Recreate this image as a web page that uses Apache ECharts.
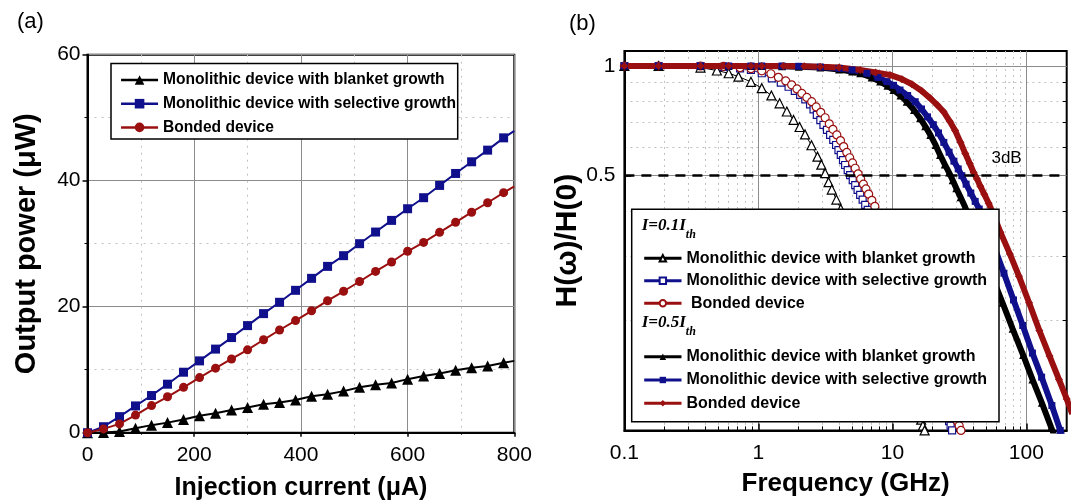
<!DOCTYPE html>
<html>
<head>
<meta charset="utf-8">
<script src="https://cdn.jsdelivr.net/npm/echarts@6/dist/echarts.min.js"></script>
<style>
  html, body { margin: 0; padding: 0; background: #ffffff; }
  #chart { width: 1074px; height: 504px; }
</style>
</head>
<body>
<div id="chart"></div>
<script>
// ---------- (a) light output vs. injection current ----------
const injectionCurrent = [0, 30, 60, 90, 120, 150, 180, 210, 240, 270, 300, 330, 360, 390, 420, 450, 480, 510, 540, 570, 600, 630, 660, 690, 720, 750, 780, 800];
const powerBlanket   = [0, 0.05, 0.2, 0.7, 1.2, 1.6, 2.1, 2.7, 3.1, 3.6, 4.0, 4.5, 4.8, 5.2, 5.8, 6.1, 6.6, 7.2, 7.6, 7.9, 8.5, 9.0, 9.4, 9.9, 10.3, 10.6, 11.1, 11.4];
const powerSelective = [0, 0.95, 2.55, 4.25, 5.9, 7.7, 9.6, 11.4, 13.27, 15.1, 17.0, 18.9, 20.7, 22.6, 24.5, 26.4, 28.1, 30.0, 31.85, 33.7, 35.55, 37.3, 39.25, 41.15, 43.0, 44.85, 46.8, 47.9];
const powerBonded    = [0, 0.6, 1.4, 2.8, 4.3, 5.7, 7.2, 8.75, 10.25, 11.7, 13.15, 14.75, 16.3, 17.8, 19.35, 20.95, 22.45, 24.0, 25.6, 27.1, 28.8, 30.2, 31.8, 33.4, 35.0, 36.5, 38.1, 39.1];
const currentTicks = [0, 200, 400, 600, 800];
const powerTicks = [0, 20, 40, 60];

// ---------- (b) normalised modulation response, I = 0.1 Ith ----------
const freqBlanketLow = [0.1, 0.18, 0.37, 0.49, 0.6, 0.71, 0.88, 1.06, 1.25, 1.44, 1.63, 1.83, 2.03, 2.23, 2.49, 2.76, 2.95, 3.15, 3.34, 3.53, 3.82, 4.12, 4.45, 6, 8.5, 11.5, 14, 15.3, 15.9, 16.4, 16.9, 17.4, 18];
const respBlanketLow = [1.0, 1.0, 0.99, 0.972, 0.955, 0.935, 0.905, 0.869, 0.83, 0.79, 0.75, 0.711, 0.68, 0.649, 0.606, 0.564, 0.536, 0.508, 0.48, 0.458, 0.43, 0.405, 0.383, 0.295, 0.21, 0.155, 0.127, 0.116, 0.111, 0.107, 0.103, 0.1, 0.096];
const freqSelectiveLow = [0.1, 0.18, 0.37, 0.55, 0.73, 0.88, 1.06, 1.26, 1.47, 1.68, 1.87, 2.05, 2.24, 2.43, 2.58, 2.73, 2.9, 3.06, 3.25, 3.43, 3.62, 3.8, 3.96, 4.12, 4.28, 4.44, 4.64, 4.84, 5.06, 5.28, 5.5, 5.75, 6.0, 6.27, 6.55, 9, 13, 18, 23, 25.5, 26.5, 27.2, 27.9, 28.6];
const respSelectiveLow = [1.0, 1.0, 1.0, 0.995, 0.985, 0.975, 0.955, 0.925, 0.9, 0.877, 0.855, 0.833, 0.81, 0.785, 0.76, 0.734, 0.71, 0.689, 0.668, 0.647, 0.627, 0.607, 0.588, 0.57, 0.552, 0.535, 0.518, 0.502, 0.486, 0.471, 0.457, 0.443, 0.43, 0.416, 0.403, 0.3, 0.2, 0.148, 0.12, 0.11, 0.106, 0.103, 0.1, 0.097];
const freqBondedLow = [0.1, 0.18, 0.37, 0.55, 0.73, 0.88, 1.06, 1.24, 1.41, 1.6, 1.77, 1.94, 2.11, 2.3, 2.5, 2.7, 2.92, 3.15, 3.38, 3.6, 3.85, 4.1, 4.33, 4.57, 4.8, 5.04, 5.28, 5.55, 5.8, 6.08, 6.35, 6.65, 7.03, 7.4, 10, 14, 20, 26, 29, 30.5, 31.5, 32.5, 33.5];
const respBondedLow = [1.0, 1.0, 1.0, 0.998, 0.99, 0.983, 0.97, 0.952, 0.931, 0.91, 0.888, 0.865, 0.841, 0.82, 0.798, 0.772, 0.746, 0.721, 0.694, 0.67, 0.647, 0.624, 0.601, 0.579, 0.56, 0.542, 0.524, 0.506, 0.49, 0.474, 0.46, 0.445, 0.428, 0.412, 0.32, 0.23, 0.16, 0.125, 0.112, 0.106, 0.103, 0.1, 0.097];

// ---------- (b) normalised modulation response, I = 0.5 Ith ----------
const freqBlanketHigh = [0.1, 0.18, 0.37, 0.6, 0.88, 1.06, 1.5, 2.0, 2.9, 4.0, 5.0, 5.75, 7.0, 8.1, 9.2, 10.2, 11.5, 12.8, 14.5, 16.1, 17.6, 19.2, 21.0, 22.7, 24.6, 26.5, 28.2, 30.0, 32.3, 34.9, 40.5, 47.6, 56, 66.4, 79, 94.6, 111, 130.5, 153, 165];
const respBlanketHigh = [1.0, 1.0, 1.0, 1.0, 1.0, 1.0, 0.998, 0.995, 0.99, 0.978, 0.965, 0.955, 0.93, 0.906, 0.882, 0.859, 0.83, 0.798, 0.757, 0.719, 0.683, 0.647, 0.607, 0.57, 0.537, 0.51, 0.486, 0.462, 0.436, 0.41, 0.358, 0.307, 0.262, 0.224, 0.19, 0.161, 0.138, 0.119, 0.102, 0.095];
const freqSelectiveHigh = [0.1, 0.18, 0.37, 0.6, 0.88, 1.06, 1.5, 2.0, 2.9, 4.0, 5.0, 6.46, 7.8, 9.1, 10.2, 11.4, 13.0, 14.8, 16.5, 18.3, 20.2, 22.1, 24.2, 26.5, 28.8, 31.0, 33.0, 35.5, 38.5, 41.5, 44.5, 51, 58.7, 68, 80.2, 94, 111, 130, 155, 179, 195];
const respSelectiveHigh = [1.0, 1.0, 1.0, 1.0, 1.0, 1.0, 1.0, 0.998, 0.993, 0.985, 0.975, 0.955, 0.93, 0.906, 0.885, 0.859, 0.83, 0.798, 0.762, 0.725, 0.69, 0.655, 0.617, 0.58, 0.548, 0.522, 0.5, 0.474, 0.448, 0.425, 0.405, 0.358, 0.313, 0.27, 0.228, 0.194, 0.163, 0.14, 0.117, 0.1, 0.093];
const freqBondedHigh = [0.1, 0.18, 0.37, 0.6, 0.88, 1.06, 1.54, 2.2, 2.89, 4.0, 5.75, 7.5, 9.6, 11.8, 14.0, 16.5, 19.2, 21.6, 24.1, 26.8, 29.4, 32.2, 35.0, 37.8, 40.4, 42.8, 45.3, 48.5, 52.3, 57, 64, 75.3, 88, 104.8, 125, 149, 175, 200, 220];
const respBondedHigh = [1.0, 1.0, 1.0, 1.0, 1.0, 1.0, 1.0, 0.998, 0.995, 0.99, 0.975, 0.96, 0.945, 0.92, 0.891, 0.855, 0.815, 0.782, 0.749, 0.705, 0.665, 0.618, 0.575, 0.54, 0.51, 0.49, 0.468, 0.445, 0.42, 0.39, 0.35, 0.305, 0.265, 0.224, 0.188, 0.16, 0.138, 0.122, 0.111];

const freqLabelTicks = [0.1, 1, 10, 100];
const freqMinorTicks = [0.2, 0.3, 0.4, 0.5, 0.6, 0.7, 0.8, 0.9, 2, 3, 4, 5, 6, 7, 8, 9, 20, 30, 40, 50, 60, 70, 80, 90];
const respLabelTicks = [0.5, 1];
const respMinorTicks = [0.2, 0.3, 0.4, 0.6, 0.7, 0.8, 0.9];
const threeDbLevel = 0.5;

// ---------- legend texts ----------
const legendText = {
  aBlanket: 'Monolithic device with blanket growth',
  aSelective: 'Monolithic device with selective growth',
  aBonded: 'Bonded device',
  lowBlanket: 'Monolithic device with blanket growth',
  lowSelective: 'Monolithic device with selective growth',
  lowBonded: ' Bonded device',
  highBlanket: 'Monolithic device with blanket growth',
  highSelective: 'Monolithic device with selective growth',
  highBonded: 'Bonded device'
};

const SANS = 'Liberation Sans, Arial, sans-serif';
const SERIF = 'Liberation Serif, Times New Roman, serif';
const BLACK = '#000000';
const BLUE = '#10108c';
const RED = '#9a1010';

const zip = (xs, ys) => xs.map((x, i) => [x, ys[i]]);
// the last current point only continues the line to the frame edge
const currentSeries = (ys) => injectionCurrent.map((x, i) =>
  i === injectionCurrent.length - 1 ? { value: [x, ys[i]], symbol: 'none' } : [x, ys[i]]);

const tickFont = { color: BLACK, fontFamily: SANS, fontSize: 21 };
const nameFont = (size) => ({ color: BLACK, fontFamily: SANS, fontSize: size, fontWeight: 'bold' });
const frame = { show: true, onZero: false, lineStyle: { color: BLACK, width: 2 } };

const chart = echarts.init(document.getElementById('chart'), null, { renderer: 'canvas' });

const legendBase = (size) => ({
  orient: 'vertical',
  padding: 0,
  selectedMode: false,
  z: 20,
  formatter: (n) => legendText[n],
  textStyle: { color: BLACK, fontFamily: SANS, fontSize: size, fontWeight: 'bold', lineHeight: 16 }
});

const openLine = (name, xs, ys, color, symbol, size) => ({
  name, type: 'line', xAxisIndex: 1, yAxisIndex: 1,
  data: zip(xs, ys), symbol, symbolSize: size, showSymbol: true,
  lineStyle: { color, width: 1 },
  itemStyle: { color: '#ffffff', borderColor: color, borderWidth: 1.2 },
  z: 3
});
const filledLine = (name, xs, ys, color, symbol, size) => ({
  name, type: 'line', xAxisIndex: 1, yAxisIndex: 1,
  data: zip(xs, ys), symbol, symbolSize: size, showSymbol: true,
  lineStyle: { color, width: 6 },
  itemStyle: { color },
  z: 4
});

const option = {
  animation: false,
  backgroundColor: '#ffffff',
  grid: [
    { left: 87.5, top: 54.7, width: 426.8, height: 378, show: true, borderColor: BLACK, borderWidth: 2, backgroundColor: 'transparent', outerBoundsMode: 'none' },
    { left: 624.4, top: 50.9, width: 442.3, height: 379.5, show: true, borderColor: BLACK, borderWidth: 2, backgroundColor: 'transparent', outerBoundsMode: 'none' }
  ],
  xAxis: [
    {
      gridIndex: 0, type: 'value', min: currentTicks[0], max: currentTicks[currentTicks.length - 1], interval: 200,
      axisLine: frame,
      axisTick: { show: true, inside: false, length: 4, lineStyle: { color: BLACK, width: 1.5 } },
      minorTick: { show: true, splitNumber: 2, length: 2, lineStyle: { color: BLACK } },
      axisLabel: Object.assign({ margin: 12 }, tickFont),
      splitLine: { show: true, lineStyle: { color: '#8c8c8c', width: 1 } },
      minorSplitLine: { show: true, lineStyle: { color: '#c0c0c0', width: 1, type: [2, 5] } },
      name: 'Injection current (μA)', nameLocation: 'middle', nameGap: 43, nameTextStyle: nameFont(25)
    },
    {
      gridIndex: 1, type: 'log', logBase: 10, min: 0.1, max: 200, position: 'bottom',
      axisLine: frame,
      axisTick: { show: true, inside: true, length: 7, customValues: freqLabelTicks, lineStyle: { color: BLACK, width: 1.5 } },
      axisLabel: Object.assign({ margin: 12, customValues: freqLabelTicks, formatter: (v) => String(+(+v).toPrecision(3)) }, tickFont),
      splitLine: { show: true, lineStyle: { color: '#8c8c8c', width: 1 } },
      name: 'Frequency (GHz)', nameLocation: 'middle', nameGap: 40, nameTextStyle: nameFont(26)
    },
    {
      gridIndex: 1, type: 'log', logBase: 10, min: 0.1, max: 200, position: 'bottom',
      axisLine: { show: false },
      axisTick: { show: true, inside: true, length: 4, customValues: freqMinorTicks, lineStyle: { color: BLACK, width: 1 } },
      axisLabel: { show: false },
      splitLine: { show: true, lineStyle: { color: '#c0c0c0', width: 1, type: [2, 4] } }
    }
  ],
  yAxis: [
    {
      gridIndex: 0, type: 'value', min: powerTicks[0], max: powerTicks[powerTicks.length - 1], interval: 20,
      axisLine: frame,
      axisTick: { show: true, inside: false, length: 5, lineStyle: { color: BLACK, width: 1.5 } },
      minorTick: { show: true, splitNumber: 2, length: 3, lineStyle: { color: BLACK } },
      axisLabel: Object.assign({ margin: 7 }, tickFont),
      splitLine: { show: true, lineStyle: { color: '#8c8c8c', width: 1 } },
      minorSplitLine: { show: true, lineStyle: { color: '#c0c0c0', width: 1, type: [2, 5] } },
      name: 'Output power (μW)', nameLocation: 'middle', nameGap: 46, nameTextStyle: nameFont(29)
    },
    {
      gridIndex: 1, type: 'log', logBase: 10, min: 0.1, max: 1.1,
      axisLine: frame,
      axisTick: { show: true, inside: true, length: 7, customValues: respLabelTicks, lineStyle: { color: BLACK, width: 1.5 } },
      axisLabel: Object.assign({ margin: 9, customValues: respLabelTicks, formatter: (v) => String(+(+v).toPrecision(3)) }, tickFont),
      splitLine: { show: true, lineStyle: { color: '#8c8c8c', width: 1 } },
      name: 'H(ω)/H(0)', nameLocation: 'middle', nameGap: 39, nameTextStyle: nameFont(30)
    },
    {
      gridIndex: 1, type: 'log', logBase: 10, min: 0.1, max: 1.1,
      axisLine: { show: false },
      axisTick: { show: true, inside: true, length: 4, customValues: respMinorTicks, lineStyle: { color: BLACK, width: 1 } },
      axisLabel: { show: false },
      splitLine: { show: true, lineStyle: { color: '#c0c0c0', width: 1, type: [2, 4] } }
    }
  ],
  legend: [
    Object.assign(legendBase(15.6), {
      data: ['aBlanket', 'aSelective', 'aBonded'],
      left: 119.8, top: 72, itemWidth: 37, itemHeight: 12, itemGap: 7.7,
      lineStyle: { width: 2.5 }
    }),
    Object.assign(legendBase(16), {
      data: ['lowBlanket', 'lowSelective', 'lowBonded'],
      left: 642.7, top: 250.3, itemWidth: 37.3, itemHeight: 8, itemGap: 6.5,
      lineStyle: { width: 3 }
    }),
    Object.assign(legendBase(16), {
      data: ['highBlanket', 'highSelective', 'highBonded'],
      left: 642.7, top: 348.7, itemWidth: 37.3, itemHeight: 8, itemGap: 7.3,
      lineStyle: { width: 3 }
    })
  ],
  graphic: [
    { type: 'text', left: 17, top: 11, z: 20, style: { text: '(a)', fill: BLACK, font: '22px ' + SANS } },
    { type: 'text', left: 569, top: 13, z: 20, style: { text: '(b)', fill: BLACK, font: '22px ' + SANS } },
    { type: 'rect', z: 10, shape: { x: 111, y: 63.5, width: 346.7, height: 75.5 }, style: { fill: '#ffffff', stroke: BLACK, lineWidth: 1.5 } },
    { type: 'rect', z: 10, shape: { x: 631.7, y: 209.3, width: 367.3, height: 212.4 }, style: { fill: '#ffffff', stroke: BLACK, lineWidth: 1.5 } },
    {
      type: 'text', left: 641.7, top: 216.7, z: 20,
      style: {
        text: '{m|I=0.1I}{s|th}', fill: BLACK,
        rich: {
          m: { fontFamily: SERIF, fontSize: 17, fontStyle: 'italic', fontWeight: 'bold', lineHeight: 17, verticalAlign: 'top' },
          s: { fontFamily: SERIF, fontSize: 12, fontStyle: 'italic', fontWeight: 'bold', lineHeight: 24, verticalAlign: 'bottom' }
        }
      }
    },
    {
      type: 'text', left: 641.7, top: 314.3, z: 20,
      style: {
        text: '{m|I=0.5I}{s|th}', fill: BLACK,
        rich: {
          m: { fontFamily: SERIF, fontSize: 17, fontStyle: 'italic', fontWeight: 'bold', lineHeight: 17, verticalAlign: 'top' },
          s: { fontFamily: SERIF, fontSize: 12, fontStyle: 'italic', fontWeight: 'bold', lineHeight: 24, verticalAlign: 'bottom' }
        }
      }
    }
  ],
  series: [
    {
      name: 'aBlanket', type: 'line', xAxisIndex: 0, yAxisIndex: 0,
      data: currentSeries(powerBlanket), symbol: 'triangle', symbolSize: 11,
      lineStyle: { color: BLACK, width: 2 }, itemStyle: { color: BLACK }
    },
    {
      name: 'aSelective', type: 'line', xAxisIndex: 0, yAxisIndex: 0,
      data: currentSeries(powerSelective), symbol: 'rect', symbolSize: 9,
      lineStyle: { color: BLUE, width: 2 }, itemStyle: { color: BLUE }
    },
    {
      name: 'aBonded', type: 'line', xAxisIndex: 0, yAxisIndex: 0,
      data: currentSeries(powerBonded), symbol: 'circle', symbolSize: 9,
      lineStyle: { color: RED, width: 2 }, itemStyle: { color: RED }
    },
    Object.assign(openLine('lowBlanket', freqBlanketLow, respBlanketLow, BLACK, 'triangle', 9), {
      markLine: {
        silent: true, symbol: ['none', 'none'],
        data: [{ yAxis: threeDbLevel }],
        lineStyle: { color: BLACK, width: 2.5, type: [10, 7] },
        label: { show: true, formatter: '3dB', position: 'insideEndTop', distance: [45, 9], color: BLACK, fontFamily: SANS, fontSize: 17 }
      }
    }),
    openLine('lowSelective', freqSelectiveLow, respSelectiveLow, BLUE, 'rect', 7),
    openLine('lowBonded', freqBondedLow, respBondedLow, RED, 'circle', 8),
    filledLine('highBlanket', freqBlanketHigh, respBlanketHigh, BLACK, 'triangle', 8),
    filledLine('highSelective', freqSelectiveHigh, respSelectiveHigh, BLUE, 'rect', 7),
    filledLine('highBonded', freqBondedHigh, respBondedHigh, RED, 'diamond', 8)
  ]
};

chart.setOption(option);
</script>
</body>
</html>
